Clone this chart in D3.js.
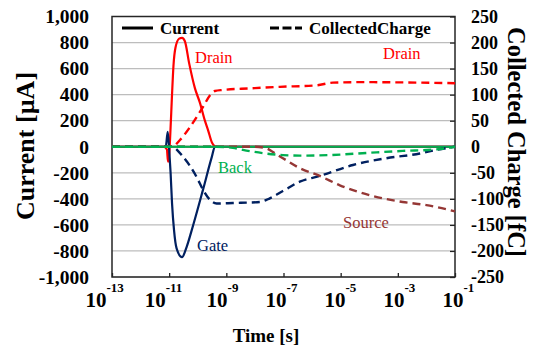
<!DOCTYPE html>
<html>
<head>
<meta charset="utf-8">
<script src="https://cdn.jsdelivr.net/npm/d3@7"></script>
<style>
  body { margin: 0; background: #fff; }
  svg text { font-family: "Liberation Serif", "Times New Roman", serif; }
</style>
</head>
<body>
<div id="chart"></div>
<script>
// time exponents (log10 of seconds) for the x axis ticks
const timeTicks = [-13, -11, -9, -7, -5, -3, -1];
const currentTicks = [-1000, -800, -600, -400, -200, 0, 200, 400, 600, 800, 1000];
const chargeTicks = [-250, -200, -150, -100, -50, 0, 50, 100, 150, 200, 250];

// currents [uA], time given as log10(t)
const drainCurrentT = [-13, -11.2, -11.08, -11.04, -11.0, -10.96, -10.9, -10.85, -10.78, -10.65, -10.55, -10.45, -10.3, -10.1, -9.92, -9.75, -9.64, -9.5, -9.4, -9.3, -1];
const drainCurrent  = [0, 0, -20, -115, -60, 100, 400, 620, 760, 830, 836, 810, 640, 450, 335, 200, 128, 30, 3, 0, 0];
const gateCurrentT = [-13, -11.12, -11.05, -11.0, -10.95, -10.9, -10.83, -10.74, -10.55, -10.39, -10.21, -9.82, -9.51, -9.4, -1];
const gateCurrent  = [0, 0, 115, -20, -200, -433, -640, -780, -848, -770, -640, -333, -80, 0, 0];
const sourceCurrentT = [-13, -1];
const sourceCurrent  = [0, 0];
const backCurrentT = [-13, -1];
const backCurrent  = [0, 0];

// collected charge [fC]
const drainChargeT = [-13, -10.9, -10.62, -10.27, -9.81, -9.57, -9.4, -9.12, -8.17, -7.13, -5.84, -5.27, -4.3, -1];
const drainCharge  = [0, 0, 13, 38, 77, 99, 107, 109, 112, 115, 118, 123, 124, 122];
const gateChargeT = [-13, -10.91, -10.52, -10.04, -9.81, -9.57, -9.34, -8.77, -7.83, -7.48, -7.02, -6.43, -5.73, -4.57, -3.4, -2.23, -1.65, -1];
const gateCharge  = [0, 0, -19, -58, -83, -102, -109, -108, -106, -99, -85, -67, -56, -35, -22, -13, -6, 0];
const sourceChargeT = [-13, -8.0, -7.6, -7.37, -7.02, -6.43, -5.73, -5.03, -3.98, -2.83, -2.0, -1];
const sourceCharge  = [0, 0, -3, -10, -22, -41, -56, -74, -93, -106, -112, -124];
const backChargeT = [-13, -9.4, -8.77, -8.42, -7.02, -6.43, -5.38, -3.98, -2.83, -1.65, -1];
const backCharge  = [0, 0, -2, -6, -16, -17, -16, -11.5, -8, -5, 0];

const width = 539, height = 352;
const plot = {left: 112, right: 455, top: 16.5, bottom: 277};

const svg = d3.select('#chart').append('svg')
  .attr('width', width)
  .attr('height', height);

const x = d3.scaleLog().domain([1e-13, 1e-1]).range([plot.left, plot.right]);
const yL = d3.scaleLinear().domain([-1000, 1000]).range([plot.bottom, plot.top]);
const yR = d3.scaleLinear().domain([-250, 250]).range([plot.bottom, plot.top]);

// gridlines
svg.append('g')
  .selectAll('line')
  .data(currentTicks)
  .enter().append('line')
  .attr('x1', plot.left).attr('x2', plot.right)
  .attr('y1', d => yL(d)).attr('y2', d => yL(d))
  .attr('stroke', '#bdbdbd')
  .attr('stroke-width', 1.2);

const fmt = d => d3.format(',')(d).replace('\u2212', '-');

// left axis
const leftAxis = svg.append('g')
  .attr('transform', 'translate(' + plot.left + ',0)')
  .call(d3.axisLeft(yL).tickValues(currentTicks).tickSize(0).tickPadding(23).tickFormat(fmt));
leftAxis.select('.domain').remove();
leftAxis.selectAll('text')
  .style('font-size', '19.5px').style('font-weight', 'bold').attr('fill', '#000');

// right axis
const rightAxis = svg.append('g')
  .attr('transform', 'translate(' + plot.right + ',0)')
  .call(d3.axisRight(yR).tickValues(chargeTicks).tickSizeInner(-5).tickSizeOuter(0).tickPadding(16).tickFormat(fmt));
rightAxis.select('.domain').remove();
rightAxis.selectAll('line').attr('stroke', '#222').attr('stroke-width', 1.3);
rightAxis.selectAll('text')
  .style('font-size', '18px').style('font-weight', 'bold').attr('fill', '#000');

// bottom ticks (inside)
const bottomAxis = svg.append('g')
  .attr('transform', 'translate(0,' + plot.bottom + ')')
  .call(d3.axisBottom(x).tickValues(timeTicks.map(e => Math.pow(10, e))).tickSizeInner(-4).tickSizeOuter(0).tickFormat(''));
bottomAxis.select('.domain').remove();
bottomAxis.selectAll('line').attr('stroke', '#222').attr('stroke-width', 1.3);

// x tick labels as 10 with superscript
const xl = svg.append('g').selectAll('text')
  .data(timeTicks)
  .enter().append('text')
  .attr('x', (d, i) => x(Math.pow(10, d)) - 2 + (i - 3) * 1.8)
  .attr('y', 307)
  .attr('text-anchor', 'middle')
  .style('font-weight', 'bold')
  .style('font-size', '21px');
xl.append('tspan').text('10');
xl.append('tspan').attr('dy', -15).style('font-size', '13px').text(d => d);

// frame
svg.append('rect')
  .attr('x', plot.left).attr('y', plot.top)
  .attr('width', plot.right - plot.left).attr('height', plot.bottom - plot.top)
  .attr('fill', 'none').attr('stroke', '#262626').attr('stroke-width', 1.5);

const lineL = d3.line()
  .x(d => x(Math.pow(10, d[0])))
  .y(d => yL(d[1]))
  .curve(d3.curveMonotoneX);
const lineR = d3.line()
  .x(d => x(Math.pow(10, d[0])))
  .y(d => yR(d[1]))
  .curve(d3.curveMonotoneX);

const series = [
  {t: drainCurrentT, v: drainCurrent, color: '#ff0000', line: lineL, dash: null},
  {t: gateCurrentT, v: gateCurrent, color: '#002060', line: lineL, dash: null},
  {t: sourceCurrentT, v: sourceCurrent, color: '#953735', line: lineL, dash: null},
  {t: backCurrentT, v: backCurrent, color: '#00b050', line: lineL, dash: null},
  {t: drainChargeT, v: drainCharge, color: '#ff0000', line: lineR, dash: '8,5'},
  {t: gateChargeT, v: gateCharge, color: '#002060', line: lineR, dash: '8,5'},
  {t: sourceChargeT, v: sourceCharge, color: '#953735', line: lineR, dash: '8,5'},
  {t: backChargeT, v: backCharge, color: '#00b050', line: lineR, dash: '8,5'}
];

svg.append('g')
  .selectAll('path')
  .data(series)
  .enter().append('path')
  .attr('d', s => s.line(s.t.map((t, i) => [t, s.v[i]])))
  .attr('fill', 'none')
  .attr('stroke', s => s.color)
  .attr('stroke-width', s => s.dash ? 2.4 : 2.2)
  .attr('stroke-dasharray', s => s.dash);

// series labels
const labels = [
  {text: 'Drain', x: 195, y: 63, color: '#ff0000'},
  {text: 'Drain', x: 383, y: 59, color: '#ff0000'},
  {text: 'Back', x: 218, y: 173, color: '#00b050'},
  {text: 'Gate', x: 197, y: 251, color: '#002060'},
  {text: 'Source', x: 343, y: 228, color: '#953735'}
];
svg.append('g').selectAll('text')
  .data(labels)
  .enter().append('text')
  .attr('x', d => d.x).attr('y', d => d.y)
  .attr('fill', d => d.color)
  .style('font-size', '16.5px')
  .text(d => d.text);

// legend
const legend = svg.append('g');
legend.append('line')
  .attr('x1', 122).attr('x2', 153).attr('y1', 28).attr('y2', 28)
  .attr('stroke', '#000').attr('stroke-width', 3);
legend.append('text')
  .attr('x', 160).attr('y', 34)
  .style('font-size', '17px').style('font-weight', 'bold')
  .text('Current');
legend.append('line')
  .attr('x1', 270).attr('x2', 302).attr('y1', 28).attr('y2', 28)
  .attr('stroke', '#000').attr('stroke-width', 3)
  .attr('stroke-dasharray', '9,3.5');
legend.append('text')
  .attr('x', 309).attr('y', 34)
  .style('font-size', '17px').style('font-weight', 'bold')
  .text('CollectedCharge');

// axis titles
svg.append('text')
  .attr('transform', 'translate(34,146) rotate(-90)')
  .attr('text-anchor', 'middle')
  .style('font-size', '26px').style('font-weight', 'bold')
  .text('Current [\u00b5A]');

svg.append('text')
  .attr('transform', 'translate(508,142) rotate(90)')
  .attr('text-anchor', 'middle')
  .style('font-size', '24.5px').style('font-weight', 'bold')
  .text('Collected Charge [fC]');

svg.append('text')
  .attr('x', 266).attr('y', 342)
  .attr('text-anchor', 'middle')
  .style('font-size', '19px').style('font-weight', 'bold')
  .text('Time [s]');
</script>
</body>
</html>
